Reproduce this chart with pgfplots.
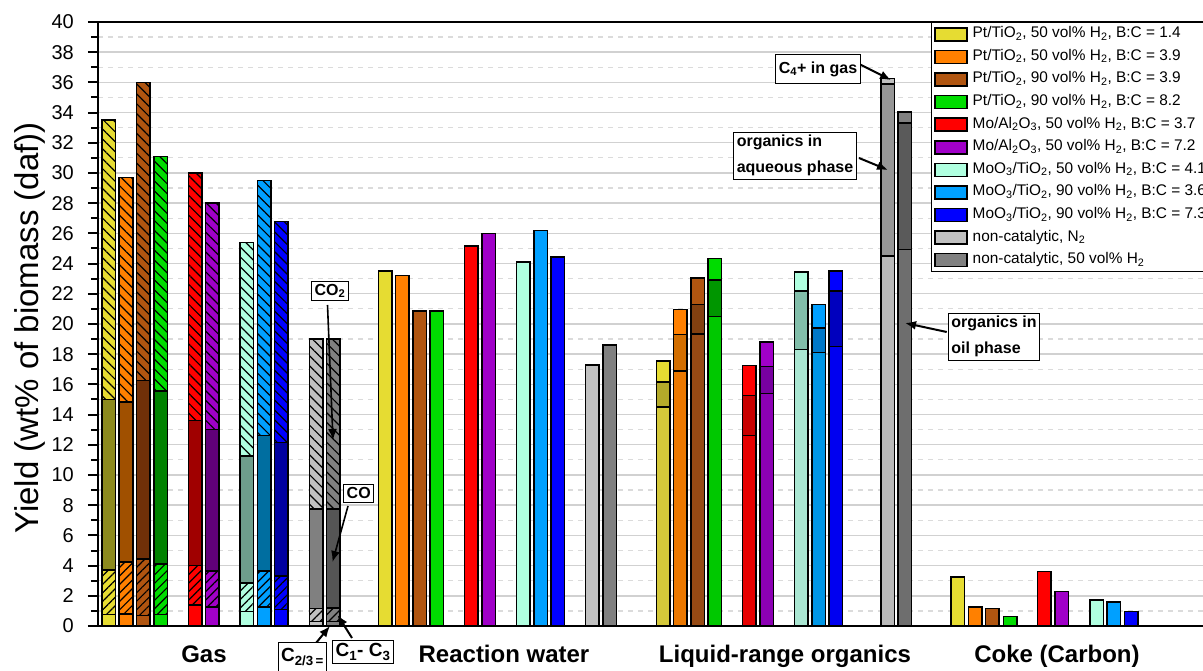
\documentclass[border=0pt]{standalone}
\usepackage{fontspec}
\setmainfont{Liberation Sans}
\usepackage{pgfplots}
\pgfplotsset{compat=1.18}
\usetikzlibrary{patterns.meta,arrows.meta}

\definecolor{cY}{HTML}{E6DC32}\definecolor{cYco}{HTML}{8C8A1E}\definecolor{cYaq}{HTML}{B4AA2A}\definecolor{cYoil}{HTML}{D4C83A}
\definecolor{cO}{HTML}{FF8000}\definecolor{cOco}{HTML}{A05000}\definecolor{cOaq}{HTML}{D26E00}\definecolor{cOoil}{HTML}{EB7800}
\definecolor{cB}{HTML}{B05510}\definecolor{cBco}{HTML}{703008}\definecolor{cBaq}{HTML}{824010}\definecolor{cBoil}{HTML}{964A14}
\definecolor{cG}{HTML}{00DC00}\definecolor{cGco}{HTML}{008200}\definecolor{cGaq}{HTML}{009600}\definecolor{cGoil}{HTML}{00C800}
\definecolor{cR}{HTML}{FF0000}\definecolor{cRco}{HTML}{A00000}\definecolor{cRaq}{HTML}{C80000}\definecolor{cRoil}{HTML}{E60000}
\definecolor{cP}{HTML}{A000C8}\definecolor{cPco}{HTML}{600078}\definecolor{cPaq}{HTML}{7800A0}\definecolor{cPoil}{HTML}{8C00B4}
\definecolor{cM}{HTML}{B0FFE0}\definecolor{cMco}{HTML}{6E9E8C}\definecolor{cMaq}{HTML}{82BEAA}\definecolor{cMoil}{HTML}{AAE6D2}
\definecolor{cL}{HTML}{00A0FF}\definecolor{cLco}{HTML}{006EA0}\definecolor{cLaq}{HTML}{0078C8}\definecolor{cLoil}{HTML}{0096E6}
\definecolor{cN}{HTML}{0000FF}\definecolor{cNco}{HTML}{0000A0}\definecolor{cNaq}{HTML}{0000BE}\definecolor{cNoil}{HTML}{0000F0}
\definecolor{cS}{HTML}{C0C0C0}\definecolor{cSco}{HTML}{808080}\definecolor{cSaq}{HTML}{969696}\definecolor{cSoil}{HTML}{B9B9B9}
\definecolor{cD}{HTML}{808080}\definecolor{cDco}{HTML}{555555}\definecolor{cDaq}{HTML}{5A5A5A}\definecolor{cDoil}{HTML}{6E6E6E}

\pgfplotsset{
  hatchtop/.style={postaction={pattern={Lines[angle=-45,distance=7pt,line width=1.2pt]},pattern color=black}},
  hatchlow/.style={postaction={pattern={Lines[angle=45,distance=6pt,line width=1.2pt]},pattern color=black}},
}

\begin{document}
\begin{tikzpicture}[x=1pt,y=1pt]
\useasboundingbox (0,0) rectangle (1203,670);
\clip (0,0) rectangle (1203,670);
\begin{axis}[
  at={(98pt,44pt)}, anchor=south west,
  scale only axis, width=1105pt, height=604pt,
  xmin=98, xmax=1203, ymin=0, ymax=40,
  axis y line*=left,
  ybar, bar shift=0pt, bar width=13.5pt,
  every axis plot/.append style={draw=black, line width=1.5pt},
  axis line style={line width=2.5pt},
  xtick={204,504,785,1057},
  xticklabels={Gas,Reaction water,Liquid-range organics,Coke (Carbon)},
  xtick style={draw=none},
  xticklabel style={font=\bfseries\fontsize{24}{24}\selectfont, anchor=north, inner sep=0pt, text height=17.5pt, text depth=4pt, yshift=-9pt},
  ytick={0,2,...,40}, minor y tick num=1,
  tick align=outside,
  ytick style={line width=2pt, black},
  major tick length=10pt, minor tick length=7pt,
  yticklabel style={font=\fontsize{20}{20}\selectfont, anchor=east, inner sep=0pt, xshift=-14pt},
  /pgf/number format/assume math mode=true,
  ymajorgrids, yminorgrids,
  major grid style={color=black!18, line width=1.4pt},
  minor grid style={color=black!14, line width=1.2pt, dash pattern=on 5pt off 5pt},
  ylabel={Yield (wt\% of biomass (daf))},
  every axis y label/.style={at={(rel axis cs:0,0.5)}, xshift=-68pt, yshift=-4pt, rotate=90, anchor=center, font=\fontsize{33}{33}\selectfont},
  legend image code/.code={\draw[#1, draw=black, line width=1.5pt] (0pt,-6.5pt) rectangle (32pt,6.5pt);},
  legend cell align=left,
  legend style={at={(rel axis cs:0.7538,1)}, anchor=north west, draw=black, line width=1.5pt, fill=white,
    font=\fontsize{15.4}{15.4}\selectfont, inner xsep=2.5pt, inner ysep=4pt, row sep=7.6pt, column sep=5pt,
    nodes={inner sep=0pt, text height=11pt, text depth=4pt}},
]
% ---- Pt/TiO2 50 vol% H2 B:C=1.4
\addplot[fill=cY] coordinates {(385.0,23.5) (663.1,17.55) (957.8,3.25)};
\addlegendentry{Pt/TiO\textsubscript{2}, 50 vol\% H\textsubscript{2}, B:C = 1.4}
\addplot[fill=cY,hatchtop,forget plot] coordinates {(108.7,33.5)};
\addplot[fill=cYco,forget plot] coordinates {(108.7,15.0)};
\addplot[fill=cY,hatchlow,forget plot] coordinates {(108.7,3.7)};
\addplot[fill=cY,forget plot] coordinates {(108.7,0.75)};
\addplot[fill=cYaq,forget plot] coordinates {(663.1,16.15)};
\addplot[fill=cYoil,forget plot] coordinates {(663.1,14.5)};
% ---- Pt/TiO2 50 vol% H2 B:C=3.9
\addplot[fill=cO] coordinates {(402.3,23.2) (680.4,20.95) (975.0,1.25)};
\addlegendentry{Pt/TiO\textsubscript{2}, 50 vol\% H\textsubscript{2}, B:C = 3.9}
\addplot[fill=cO,hatchtop,forget plot] coordinates {(126.0,29.7)};
\addplot[fill=cOco,forget plot] coordinates {(126.0,14.85)};
\addplot[fill=cO,hatchlow,forget plot] coordinates {(126.0,4.25)};
\addplot[fill=cO,forget plot] coordinates {(126.0,0.8)};
\addplot[fill=cOaq,forget plot] coordinates {(680.4,19.3)};
\addplot[fill=cOoil,forget plot] coordinates {(680.4,16.9)};
% ---- Pt/TiO2 90 vol% H2 B:C=3.9
\addplot[fill=cB] coordinates {(419.6,20.85) (697.6,23.05) (992.2,1.15)};
\addlegendentry{Pt/TiO\textsubscript{2}, 90 vol\% H\textsubscript{2}, B:C = 3.9}
\addplot[fill=cB,hatchtop,forget plot] coordinates {(143.2,36.0)};
\addplot[fill=cBco,forget plot] coordinates {(143.2,16.25)};
\addplot[fill=cB,hatchlow,forget plot] coordinates {(143.2,4.45)};
\addplot[fill=cB,forget plot] coordinates {(143.2,0.7)};
\addplot[fill=cBaq,forget plot] coordinates {(697.6,21.3)};
\addplot[fill=cBoil,forget plot] coordinates {(697.6,19.35)};
% ---- Pt/TiO2 90 vol% H2 B:C=8.2
\addplot[fill=cG] coordinates {(436.8,20.85) (714.9,24.35) (1010.0,0.62)};
\addlegendentry{Pt/TiO\textsubscript{2}, 90 vol\% H\textsubscript{2}, B:C = 8.2}
\addplot[fill=cG,hatchtop,forget plot] coordinates {(160.5,31.1)};
\addplot[fill=cGco,forget plot] coordinates {(160.5,15.55)};
\addplot[fill=cG,hatchlow,forget plot] coordinates {(160.5,4.1)};
\addplot[fill=cG,forget plot] coordinates {(160.5,0.75)};
\addplot[fill=cGaq,forget plot] coordinates {(714.9,22.9)};
\addplot[fill=cGoil,forget plot] coordinates {(714.9,20.5)};
% ---- Mo/Al2O3 50 vol% H2 B:C=3.7
\addplot[fill=cR] coordinates {(471.4,25.15) (749.4,17.25) (1044.0,3.6)};
\addlegendentry{Mo/Al\textsubscript{2}O\textsubscript{3}, 50 vol\% H\textsubscript{2}, B:C = 3.7}
\addplot[fill=cR,hatchtop,forget plot] coordinates {(195.1,30.0)};
\addplot[fill=cRco,forget plot] coordinates {(195.1,13.6)};
\addplot[fill=cR,hatchlow,forget plot] coordinates {(195.1,4.0)};
\addplot[fill=cR,forget plot] coordinates {(195.1,1.4)};
\addplot[fill=cRaq,forget plot] coordinates {(749.4,15.25)};
\addplot[fill=cRoil,forget plot] coordinates {(749.4,12.6)};
% ---- Mo/Al2O3 50 vol% H2 B:C=7.2
\addplot[fill=cP] coordinates {(488.6,26.0) (766.7,18.8) (1061.5,2.3)};
\addlegendentry{Mo/Al\textsubscript{2}O\textsubscript{3}, 50 vol\% H\textsubscript{2}, B:C = 7.2}
\addplot[fill=cP,hatchtop,forget plot] coordinates {(212.3,28.0)};
\addplot[fill=cPco,forget plot] coordinates {(212.3,13.0)};
\addplot[fill=cP,hatchlow,forget plot] coordinates {(212.3,3.65)};
\addplot[fill=cP,forget plot] coordinates {(212.3,1.25)};
\addplot[fill=cPaq,forget plot] coordinates {(766.7,17.2)};
\addplot[fill=cPoil,forget plot] coordinates {(766.7,15.4)};
% ---- MoO3/TiO2 50 vol% H2 B:C=4.1
\addplot[fill=cM] coordinates {(523.2,24.1) (801.2,23.45) (1096.7,1.72)};
\addlegendentry{MoO\textsubscript{3}/TiO\textsubscript{2}, 50 vol\% H\textsubscript{2}, B:C = 4.1}
\addplot[fill=cM,hatchtop,forget plot] coordinates {(246.9,25.4)};
\addplot[fill=cMco,forget plot] coordinates {(246.9,11.25)};
\addplot[fill=cM,hatchlow,forget plot] coordinates {(246.9,2.85)};
\addplot[fill=cM,forget plot] coordinates {(246.9,0.95)};
\addplot[fill=cMaq,forget plot] coordinates {(801.2,22.2)};
\addplot[fill=cMoil,forget plot] coordinates {(801.2,18.3)};
% ---- MoO3/TiO2 90 vol% H2 B:C=3.6
\addplot[fill=cL] coordinates {(540.5,26.2) (818.5,21.3) (1113.7,1.6)};
\addlegendentry{MoO\textsubscript{3}/TiO\textsubscript{2}, 90 vol\% H\textsubscript{2}, B:C = 3.6}
\addplot[fill=cL,hatchtop,forget plot] coordinates {(264.1,29.5)};
\addplot[fill=cLco,forget plot] coordinates {(264.1,12.6)};
\addplot[fill=cL,hatchlow,forget plot] coordinates {(264.1,3.65)};
\addplot[fill=cL,forget plot] coordinates {(264.1,1.25)};
\addplot[fill=cLaq,forget plot] coordinates {(818.5,19.75)};
\addplot[fill=cLoil,forget plot] coordinates {(818.5,18.1)};
% ---- MoO3/TiO2 90 vol% H2 B:C=7.3
\addplot[fill=cN] coordinates {(557.7,24.45) (835.8,23.5) (1131.0,0.97)};
\addlegendentry{MoO\textsubscript{3}/TiO\textsubscript{2}, 90 vol\% H\textsubscript{2}, B:C = 7.3}
\addplot[fill=cN,hatchtop,forget plot] coordinates {(281.4,26.8)};
\addplot[fill=cNco,forget plot] coordinates {(281.4,12.15)};
\addplot[fill=cN,hatchlow,forget plot] coordinates {(281.4,3.3)};
\addplot[fill=cN,forget plot] coordinates {(281.4,1.1)};
\addplot[fill=cNaq,forget plot] coordinates {(835.8,22.2)};
\addplot[fill=cNoil,forget plot] coordinates {(835.8,18.5)};
% ---- non-catalytic N2
\addplot[fill=cS] coordinates {(592.3,17.3) (887.6,36.25)};
\addlegendentry{non-catalytic, N\textsubscript{2}}
\addplot[fill=cS,hatchtop,forget plot] coordinates {(316.0,19.0)};
\addplot[fill=cSco,forget plot] coordinates {(316.0,7.75)};
\addplot[fill=cS,hatchlow,forget plot] coordinates {(316.0,1.15)};
\addplot[fill=cS,forget plot] coordinates {(316.0,0.3)};
\addplot[fill=cSaq,forget plot] coordinates {(887.6,35.9)};
\addplot[fill=cSoil,forget plot] coordinates {(887.6,24.5)};
% ---- non-catalytic 50 vol% H2
\addplot[fill=cD] coordinates {(609.5,18.6) (904.9,34.05)};
\addlegendentry{non-catalytic, 50 vol\% H\textsubscript{2}}
\addplot[fill=cD,hatchtop,forget plot] coordinates {(333.2,19.0)};
\addplot[fill=cDco,forget plot] coordinates {(333.2,7.75)};
\addplot[fill=cD,hatchlow,forget plot] coordinates {(333.2,1.2)};
\addplot[fill=cD,forget plot] coordinates {(333.2,0.3)};
\addplot[fill=cDaq,forget plot] coordinates {(904.9,33.3)};
\addplot[fill=cDoil,forget plot] coordinates {(904.9,24.95)};
\end{axis}
% ---- annotations (pixel coordinates, y measured from bottom)
\tikzset{ann/.style={draw=black, line width=0.8pt, fill=white, font=\bfseries\fontsize{16}{16}\selectfont, inner sep=3pt},
         arr/.style={line width=2pt, -{Latex[length=11pt,width=9pt]}}}
\draw[arr, line width=1.6pt] (327.5,365) -- (333,230);
\node[ann] at (330,379) {CO\textsubscript{2}};
\draw[arr, line width=1.6pt] (348,164) -- (332.5,108);
\node[ann] at (358.7,176.7) {CO};
\draw[arr] (352,32) -- (337.5,55);
\node[ann, font=\bfseries\fontsize{19}{19}\selectfont] at (363,18) {C\textsubscript{1}- C\textsubscript{3}};
\draw[arr] (316,27) -- (330,44);
\node[ann, anchor=north west, font=\bfseries\fontsize{19}{19}\selectfont, text height=17pt, text depth=8pt] at (277.7,28.5) {C\textsubscript{2/3\,=}};
\draw[arr] (859,606) -- (891,590);
\node[ann, minimum height=29pt] at (818,601) {C\textsubscript{4}+ in gas};
\draw[arr] (859,512) -- (888,500);
\node[ann, align=left, font=\bfseries\fontsize{16}{26}\selectfont] at (795,514.5) {organics in\\aqueous phase};
\draw[arr] (946.7,338) -- (905,347);
\node[ann, align=left, font=\bfseries\fontsize{16}{26}\selectfont] at (994,333.3) {organics in\\oil phase};
\end{tikzpicture}
\end{document}
